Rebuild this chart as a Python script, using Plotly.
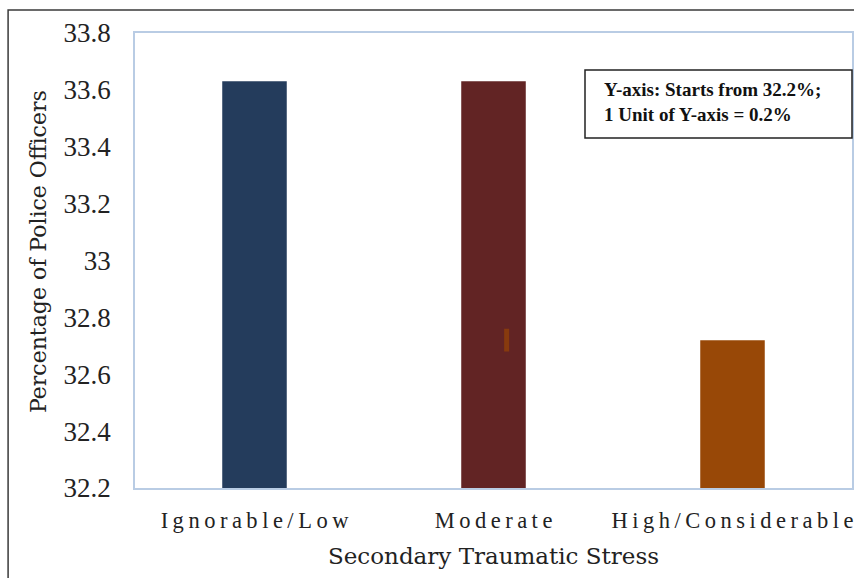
import plotly.graph_objects as go

# Data
categories = ["Ignorable/Low", "Moderate", "High/Considerable"]
values = [33.63, 33.63, 32.72]
bar_colors = ["#243C5C", "#622424", "#984807"]
y_ticks = [32.2, 32.4, 32.6, 32.8, 33.0, 33.2, 33.4, 33.6, 33.8]
y_tick_text = ["32.2", "32.4", "32.6", "32.8", "33", "33.2", "33.4", "33.6", "33.8"]
# stray error-bar mark (centre value and half-length)
err_center = 32.72
err_half = 0.04

SERIF = "'Liberation Serif', 'Times New Roman', Times, serif"
TITLE_SERIF = "'DejaVu Serif', Georgia, serif"

def spaced(s):
    # letter-spaced category labels
    return "\u2009".join(list(s))

fig = go.Figure()
fig.add_trace(go.Bar(
    x=categories,
    y=[v - y_ticks[0] for v in values],
    base=y_ticks[0],
    marker=dict(color=bar_colors, line=dict(width=0)),
    width=0.27,
    showlegend=False,
))

fig.update_layout(
    width=854, height=578,
    margin=dict(l=135, r=2, t=33, b=90, autoexpand=False),
    paper_bgcolor="white", plot_bgcolor="white",
    font=dict(family=SERIF, color="#222222"),
    xaxis=dict(
        tickmode="array", tickvals=categories,
        ticktext=[spaced(c) for c in categories],
        tickfont=dict(family=SERIF, size=22.5, color="#222222"),
        showline=True, linecolor="#B9CCE4", linewidth=1.5, mirror=True,
        showgrid=False, ticks="", ticklabelstandoff=11,
        title=dict(text="Secondary Traumatic Stress",
                   font=dict(family=TITLE_SERIF, size=23, color="#222222"),
                   standoff=16),
    ),
    yaxis=dict(
        range=[y_ticks[0], y_ticks[-1]],
        tickmode="array", tickvals=y_ticks, ticktext=y_tick_text,
        tickfont=dict(family=SERIF, size=27, color="#222222"),
        showline=True, linecolor="#B9CCE4", linewidth=1.5, mirror=True,
        showgrid=False, zeroline=False, ticks="", ticklabelstandoff=17,
    ),
)

# y-axis title
fig.add_annotation(
    xref="paper", yref="paper",
    x=(38 - 135) / 717, y=1 - (252 - 33) / 455,
    xanchor="center", yanchor="middle", textangle=-90, showarrow=False,
    text="Percentage of Police Officers",
    font=dict(family=TITLE_SERIF, size=22, color="#222222"),
)

# outer frame
fig.add_shape(type="rect", xref="paper", yref="paper",
              x0=-0.177, x1=1.2, y0=-0.4, y1=1.0505,
              line=dict(color="#3A3A3A", width=1.5), layer="above")

# stray error mark
fig.add_shape(type="line", xref="x", yref="y",
              x0=1.055, x1=1.055,
              y0=err_center - err_half, y1=err_center + err_half,
              line=dict(color="#873A0E", width=5))

# note box
fig.add_shape(type="rect", xref="paper", yref="paper",
              x0=(585 - 135) / 717, x1=(852 - 135) / 717,
              y0=1 - (138 - 33) / 455, y1=1 - (70 - 33) / 455,
              line=dict(color="#222222", width=1.5), fillcolor="white")
fig.add_annotation(
    xref="paper", yref="paper",
    x=(602 - 135) / 717, y=1 - (102 - 33) / 455,
    xanchor="left", yanchor="middle", align="left", showarrow=False,
    text="<b>Y-axis: Starts from 32.2%;<br>1 Unit of Y-axis = 0.2%</b>",
    font=dict(family=SERIF, size=19, color="#111111"),
)

fig.write_html("out.html")
